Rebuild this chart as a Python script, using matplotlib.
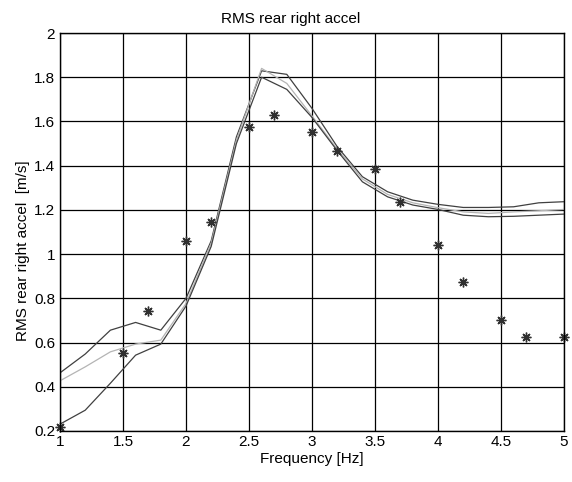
import matplotlib
matplotlib.use("Agg")
import matplotlib.pyplot as plt

plt.rcParams['font.family'] = ['Liberation Sans', 'DejaVu Sans']

freq = [1.0, 1.2, 1.4, 1.6, 1.8, 2.0, 2.2, 2.4, 2.6, 2.8, 3.0, 3.2, 3.4, 3.6, 3.8, 4.0, 4.2, 4.4, 4.6, 4.8, 5.0]
sim_a = [0.463, 0.548, 0.656, 0.691, 0.656, 0.80, 1.06, 1.53, 1.829, 1.813, 1.659, 1.486, 1.35, 1.282, 1.244, 1.225, 1.211, 1.211, 1.214, 1.232, 1.237]
sim_b = [0.427, 0.49, 0.558, 0.593, 0.611, 0.777, 1.05, 1.515, 1.84, 1.772, 1.625, 1.475, 1.34, 1.27, 1.232, 1.21, 1.191, 1.184, 1.191, 1.196, 1.202]
sim_c = [0.231, 0.294, 0.416, 0.543, 0.593, 0.765, 1.035, 1.50, 1.80, 1.745, 1.618, 1.468, 1.327, 1.259, 1.222, 1.202, 1.176, 1.169, 1.171, 1.176, 1.181]

meas_f = [1.0, 1.5, 1.7, 2.0, 2.2, 2.5, 2.7, 3.0, 3.2, 3.5, 3.7, 4.0, 4.2, 4.5, 4.7, 5.0]
meas_v = [0.219, 0.555, 0.742, 1.059, 1.146, 1.573, 1.629, 1.551, 1.466, 1.386, 1.234, 1.041, 0.875, 0.701, 0.623, 0.623]

xticks = [1, 1.5, 2, 2.5, 3, 3.5, 4, 4.5, 5]
yticks = [0.2, 0.4, 0.6, 0.8, 1, 1.2, 1.4, 1.6, 1.8, 2]

W, H = 572, 482
fig = plt.figure(figsize=(W / 100, H / 100), dpi=100)
ax = fig.add_axes([60 / W, 1 - 431 / H, (564 - 60) / W, (431 - 33) / H])

ax.plot(freq, sim_a, color='#404040', lw=0.9)
ax.plot(freq, sim_b, color='#b4b4b4', lw=0.9)
ax.plot(freq, sim_c, color='#404040', lw=0.9)
ax.plot(meas_f, meas_v, linestyle='none', marker=(8, 2, 0), markersize=7,
        markeredgecolor='#303030', markeredgewidth=1.0, clip_on=False)

ax.set_xlim(1, 5)
ax.set_ylim(0.2, 2)
ax.set_xticks(xticks)
ax.set_yticks(yticks)
ax.set_xticklabels(['%g' % v for v in xticks])
ax.set_yticklabels(['%g' % v for v in yticks])
ax.grid(True, color='black', linestyle='-', linewidth=0.9)
ax.set_axisbelow(True)
for s in ax.spines.values():
    s.set_color('black')
    s.set_linewidth(1.0)
ax.tick_params(direction='in', length=0, labelsize=11, colors='black')
ax.tick_params(axis='x', pad=3)
ax.tick_params(axis='y', pad=3.5)

ax.set_title('RMS rear right accel', fontsize=11, pad=7.4, x=0.458)
ax.set_xlabel('Frequency [Hz]', fontsize=11, labelpad=2)
ax.set_ylabel('RMS rear right accel  [m/s]', fontsize=11)
ax.yaxis.set_label_coords(-0.06, 0.452)

fig.savefig('out.png', dpi=100)
